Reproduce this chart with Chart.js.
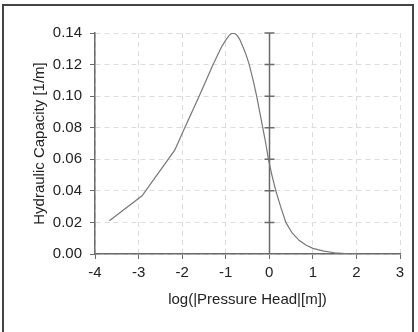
<!DOCTYPE html>
<html>
<head>
<meta charset="utf-8">
<script src="https://cdn.jsdelivr.net/npm/chart.js@4.4.1/dist/chart.umd.min.js"></script>
<style>
  html, body { margin: 0; padding: 0; background: #fff; }
  #wrap { position: relative; width: 418px; height: 332px; overflow: hidden; }
  #frame { position: absolute; left: 2px; top: 4px; width: 408px; height: 340px; border: 2px solid #444; }
  #hcChart { position: absolute; left: 0; top: 0; }
</style>
</head>
<body>
<div id="wrap">
  <div id="frame"></div>
  <canvas id="hcChart" width="418" height="332"></canvas>
</div>
<script>
// log10 of |pressure head| and hydraulic capacity
const logHead = [-3.67, -2.92, -2.17, -1.94, -1.61, -1.29, -1.10, -1.00, -0.92, -0.86, -0.80, -0.74, -0.68, -0.60, -0.53, -0.46, -0.37, -0.29, -0.22, -0.15, -0.08, -0.02, 0.06, 0.15, 0.26, 0.38, 0.52, 0.69, 0.85, 1.00, 1.25, 1.50, 1.75, 2.00];
const capacity = [0.0211, 0.0369, 0.0658, 0.080, 0.100, 0.120, 0.131, 0.1355, 0.1385, 0.1398, 0.1398, 0.1385, 0.136, 0.131, 0.126, 0.120, 0.110, 0.100, 0.090, 0.080, 0.070, 0.060, 0.050, 0.040, 0.030, 0.020, 0.0135, 0.0085, 0.0055, 0.0036, 0.0018, 0.0008, 0.0003, 0.0];
const xTicks = [-4, -3, -2, -1, 0, 1, 2, 3];
const yTicks = [0, 0.02, 0.04, 0.06, 0.08, 0.10, 0.12, 0.14];

const axisColor = '#6a6a6a';
const gridColor = '#dcdcdc';
const labelFont = { family: '"Liberation Sans", Arial, sans-serif', size: 15 };

// vertical axis drawn through log(h) = 0, with ticks on both sides
const centerAxis = {
    id: 'centerAxis',
    beforeDatasetsDraw(chart) {
        const { ctx, scales: { x, y } } = chart;
        const px = Math.round(x.getPixelForValue(0)) + 0.5;
        ctx.save();
        ctx.strokeStyle = axisColor;
        ctx.lineWidth = 1.5;
        ctx.beginPath();
        ctx.moveTo(px, y.getPixelForValue(0.14));
        ctx.lineTo(px, y.getPixelForValue(0));
        yTicks.forEach(v => {
            if (v === 0) return;
            const py = y.getPixelForValue(v);
            ctx.moveTo(px - 5, py);
            ctx.lineTo(px + 5, py);
        });
        ctx.stroke();
        ctx.restore();
    }
};

new Chart(document.getElementById('hcChart'), {
    type: 'scatter',
    data: {
        datasets: [{
            data: logHead.map((v, i) => ({ x: v, y: capacity[i] })),
            showLine: true,
            borderColor: '#777',
            borderWidth: 1.2,
            pointRadius: 0,
            tension: 0
        }]
    },
    options: {
        responsive: false,
        animation: false,
        layout: { padding: { left: 0, top: 33, right: 18, bottom: 0 } },
        plugins: { legend: { display: false }, tooltip: { enabled: false } },
        scales: {
            x: {
                type: 'linear',
                min: -4,
                max: 3,
                afterBuildTicks: s => { s.ticks = xTicks.map(v => ({ value: v })); },
                afterFit: s => { s.height = 78; },
                ticks: { color: '#222', font: labelFont, padding: 5, callback: v => v },
                grid: { color: gridColor, tickColor: axisColor, tickLength: 5, lineWidth: 1 },
                border: { color: axisColor, width: 1.5, dash: [5, 4] },
                title: {
                    display: true,
                    text: 'log(|Pressure Head|[m])',
                    color: '#222',
                    font: labelFont,
                    padding: { top: 0, bottom: 23 }
                }
            },
            y: {
                type: 'linear',
                min: 0,
                max: 0.14,
                afterBuildTicks: s => { s.ticks = yTicks.map(v => ({ value: v })); },
                afterFit: s => { s.width = 95; },
                ticks: { color: '#222', font: labelFont, padding: 8, callback: v => v.toFixed(2) },
                grid: { color: gridColor, tickColor: axisColor, tickLength: 5, lineWidth: 1 },
                border: { color: axisColor, width: 1.5, dash: [5, 4] },
                title: {
                    display: true,
                    text: 'Hydraulic Capacity [1/m]',
                    color: '#222',
                    font: labelFont,
                    padding: { top: 31, bottom: 0 }
                }
            }
        }
    },
    plugins: [centerAxis]
});
</script>
</body>
</html>
